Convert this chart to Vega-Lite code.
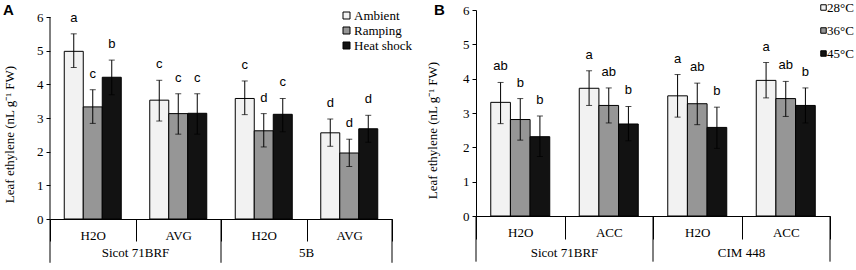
{
  "$schema": "https://vega.github.io/schema/vega-lite/v6.json",
  "padding": {"left": 3, "top": 1, "right": 0, "bottom": 0},
  "columns": 2,
  "align": "none",
  "spacing": 13,
  "resolve": {
    "scale": {"x": "independent", "y": "independent", "xOffset": "independent", "fill": "independent"},
    "axis": {"x": "independent", "y": "independent"},
    "legend": {"fill": "independent"}
  },
  "datasets": {
    "A": [
      {"g": "Sicot 71BRF|H2O", "s": "Ambient", "v": 4.98, "lo": 4.50, "hi": 5.50, "l": "a"},
      {"g": "Sicot 71BRF|H2O", "s": "Ramping", "v": 3.33, "lo": 2.84, "hi": 3.84, "l": "c"},
      {"g": "Sicot 71BRF|H2O", "s": "Heat shock", "v": 4.21, "lo": 3.69, "hi": 4.72, "l": "b"},
      {"g": "Sicot 71BRF|AVG", "s": "Ambient", "v": 3.53, "lo": 2.91, "hi": 4.12, "l": "c"},
      {"g": "Sicot 71BRF|AVG", "s": "Ramping", "v": 3.13, "lo": 2.52, "hi": 3.72, "l": "c"},
      {"g": "Sicot 71BRF|AVG", "s": "Heat shock", "v": 3.14, "lo": 2.52, "hi": 3.72, "l": "c"},
      {"g": "5B|H2O", "s": "Ambient", "v": 3.58, "lo": 3.10, "hi": 4.10, "l": "c"},
      {"g": "5B|H2O", "s": "Ramping", "v": 2.62, "lo": 2.14, "hi": 3.13, "l": "d"},
      {"g": "5B|H2O", "s": "Heat shock", "v": 3.11, "lo": 2.59, "hi": 3.58, "l": "c"},
      {"g": "5B|AVG", "s": "Ambient", "v": 2.56, "lo": 2.16, "hi": 2.97, "l": "d"},
      {"g": "5B|AVG", "s": "Ramping", "v": 1.96, "lo": 1.56, "hi": 2.37, "l": "d"},
      {"g": "5B|AVG", "s": "Heat shock", "v": 2.68, "lo": 2.28, "hi": 3.08, "l": "d"}
    ],
    "B": [
      {"g": "Sicot 71BRF|H2O", "s": "28°C", "v": 3.31, "lo": 2.69, "hi": 3.89, "l": "ab"},
      {"g": "Sicot 71BRF|H2O", "s": "36°C", "v": 2.81, "lo": 2.21, "hi": 3.42, "l": "b"},
      {"g": "Sicot 71BRF|H2O", "s": "45°C", "v": 2.31, "lo": 1.73, "hi": 2.91, "l": "b"},
      {"g": "Sicot 71BRF|ACC", "s": "28°C", "v": 3.72, "lo": 3.22, "hi": 4.23, "l": "a"},
      {"g": "Sicot 71BRF|ACC", "s": "36°C", "v": 3.22, "lo": 2.71, "hi": 3.73, "l": "ab"},
      {"g": "Sicot 71BRF|ACC", "s": "45°C", "v": 2.68, "lo": 2.19, "hi": 3.19, "l": "b"},
      {"g": "CIM 448|H2O", "s": "28°C", "v": 3.50, "lo": 2.88, "hi": 4.12, "l": "a"},
      {"g": "CIM 448|H2O", "s": "36°C", "v": 3.27, "lo": 2.66, "hi": 3.87, "l": "ab"},
      {"g": "CIM 448|H2O", "s": "45°C", "v": 2.58, "lo": 1.97, "hi": 3.17, "l": "b"},
      {"g": "CIM 448|ACC", "s": "28°C", "v": 3.95, "lo": 3.44, "hi": 4.47, "l": "a"},
      {"g": "CIM 448|ACC", "s": "36°C", "v": 3.42, "lo": 2.90, "hi": 3.92, "l": "ab"},
      {"g": "CIM 448|ACC", "s": "45°C", "v": 3.22, "lo": 2.71, "hi": 3.73, "l": "b"}
    ],
    "genoA": [
      {"g": "Sicot 71BRF|H2O", "geno": "Sicot 71BRF"},
      {"g": "5B|H2O", "geno": "5B"}
    ],
    "endA": [{"g": "5B|AVG"}],
    "genoB": [
      {"g": "Sicot 71BRF|H2O", "geno": "Sicot 71BRF"},
      {"g": "CIM 448|H2O", "geno": "CIM 448"}
    ],
    "endB": [{"g": "CIM 448|ACC"}],
    "panelA": [{"g": "Sicot 71BRF|H2O", "p": "A"}],
    "panelB": [{"g": "Sicot 71BRF|H2O", "p": "B"}]
  },
  "concat": [
    {
      "width": 342,
      "height": 209,
      "layer": [
        {
          "data": {"name": "A"},
          "mark": {"type": "bar", "stroke": "black", "strokeWidth": 1},
          "encoding": {
            "x": {"field": "g", "type": "nominal", "title": null,
              "scale": {"domain": ["Sicot 71BRF|H2O", "Sicot 71BRF|AVG", "5B|H2O", "5B|AVG"], "paddingInner": 0, "paddingOuter": 0},
              "axis": {"labelExpr": "split(datum.label, '|')[1]", "tickBand": "extent", "tickSize": 22, "labelPadding": -12, "labelAngle": 0}},
            "xOffset": {"field": "s", "type": "nominal", "scale": {"domain": ["Ambient", "Ramping", "Heat shock"], "paddingInner": 0, "paddingOuter": 0.75}},
            "y": {"field": "v", "type": "quantitative", "scale": {"domain": [0, 6.208], "nice": false},
              "axis": {"title": "Leaf ethylene (nL g⁻¹ FW)", "values": [0, 1, 2, 3, 4, 5, 6], "titleY": 124, "titlePadding": 20, "domain": false}},
            "fill": {"field": "s", "type": "nominal",
              "scale": {"domain": ["Ambient", "Ramping", "Heat shock"], "range": ["#f2f2f2", "#969696", "#121212"]},
              "legend": {"title": null, "orient": "none", "legendX": 290, "legendY": -1, "symbolType": "square", "symbolSize": 49, "symbolStrokeColor": "black", "symbolStrokeWidth": 1, "labelFont": "Liberation Serif", "labelFontSize": 13, "labelColor": "black", "rowPadding": 1, "labelOffset": 1, "padding": 0}}
          }
        },
        {
          "data": {"name": "A"},
          "mark": {"type": "rule", "color": "black", "strokeWidth": 1},
          "encoding": {
            "x": {"field": "g", "type": "nominal"},
            "xOffset": {"field": "s", "type": "nominal"},
            "y": {"field": "lo", "type": "quantitative", "axis": {"title": "Leaf ethylene (nL g⁻¹ FW)", "values": [0, 1, 2, 3, 4, 5, 6], "titleY": 124, "titlePadding": 20, "domain": false}},
            "y2": {"field": "hi"}
          }
        },
        {
          "data": {"name": "A"},
          "mark": {"type": "tick", "orient": "horizontal", "color": "black", "thickness": 1, "size": 6},
          "encoding": {
            "x": {"field": "g", "type": "nominal"},
            "xOffset": {"field": "s", "type": "nominal"},
            "y": {"field": "lo", "type": "quantitative", "axis": {"title": "Leaf ethylene (nL g⁻¹ FW)", "values": [0, 1, 2, 3, 4, 5, 6], "titleY": 124, "titlePadding": 20, "domain": false}}
          }
        },
        {
          "data": {"name": "A"},
          "mark": {"type": "tick", "orient": "horizontal", "color": "black", "thickness": 1, "size": 6},
          "encoding": {
            "x": {"field": "g", "type": "nominal"},
            "xOffset": {"field": "s", "type": "nominal"},
            "y": {"field": "hi", "type": "quantitative", "axis": {"title": "Leaf ethylene (nL g⁻¹ FW)", "values": [0, 1, 2, 3, 4, 5, 6], "titleY": 124, "titlePadding": 20, "domain": false}}
          }
        },
        {
          "data": {"name": "A"},
          "mark": {"type": "text", "font": "Liberation Sans", "fontSize": 13, "baseline": "alphabetic", "dy": -12, "color": "black"},
          "encoding": {
            "x": {"field": "g", "type": "nominal"},
            "xOffset": {"field": "s", "type": "nominal"},
            "y": {"field": "hi", "type": "quantitative", "axis": {"title": "Leaf ethylene (nL g⁻¹ FW)", "values": [0, 1, 2, 3, 4, 5, 6], "titleY": 124, "titlePadding": 20, "domain": false}},
            "text": {"field": "l"}
          }
        },
        {
          "data": {"name": "genoA"},
          "mark": {"type": "rule", "color": "black", "strokeWidth": 1},
          "encoding": {
            "x": {"field": "g", "type": "nominal", "bandPosition": 0},
            "y": {"datum": 0, "type": "quantitative", "axis": {"title": "Leaf ethylene (nL g⁻¹ FW)", "values": [0, 1, 2, 3, 4, 5, 6], "titleY": 124, "titlePadding": 20, "domain": false}},
            "y2": {"datum": -1.3}
          }
        },
        {
          "data": {"name": "panelA"},
          "mark": {"type": "rule", "color": "black", "strokeWidth": 1},
          "encoding": {
            "x": {"field": "g", "type": "nominal", "bandPosition": 0},
            "y": {"datum": 6, "type": "quantitative", "axis": {"title": "Leaf ethylene (nL g⁻¹ FW)", "values": [0, 1, 2, 3, 4, 5, 6], "titleY": 124, "titlePadding": 20, "domain": false}},
            "y2": {"datum": 0}
          }
        },
        {
          "data": {"name": "endA"},
          "mark": {"type": "rule", "color": "black", "strokeWidth": 1},
          "encoding": {
            "x": {"field": "g", "type": "nominal", "bandPosition": 1},
            "y": {"datum": 0, "type": "quantitative", "axis": {"title": "Leaf ethylene (nL g⁻¹ FW)", "values": [0, 1, 2, 3, 4, 5, 6], "titleY": 124, "titlePadding": 20, "domain": false}},
            "y2": {"datum": -1.3}
          }
        },
        {
          "data": {"name": "genoA"},
          "mark": {"type": "text", "font": "Liberation Serif", "fontSize": 13, "baseline": "middle", "color": "black"},
          "encoding": {
            "x": {"field": "g", "type": "nominal", "bandPosition": 1},
            "y": {"datum": -1.0, "type": "quantitative", "axis": {"title": "Leaf ethylene (nL g⁻¹ FW)", "values": [0, 1, 2, 3, 4, 5, 6], "titleY": 124, "titlePadding": 20, "domain": false}},
            "text": {"field": "geno"}
          }
        },
        {
          "data": {"name": "panelA"},
          "mark": {"type": "text", "font": "Liberation Sans", "fontSize": 15, "fontWeight": "bold", "align": "left", "baseline": "alphabetic", "dx": -47, "dy": -2, "color": "black"},
          "encoding": {
            "x": {"field": "g", "type": "nominal", "bandPosition": 0},
            "y": {"datum": 6, "type": "quantitative", "axis": {"title": "Leaf ethylene (nL g⁻¹ FW)", "values": [0, 1, 2, 3, 4, 5, 6], "titleY": 124, "titlePadding": 20, "domain": false}},
            "text": {"field": "p"}
          }
        }
      ]
    },
    {
      "width": 354,
      "height": 206,
      "layer": [
        {
          "data": {"name": "B"},
          "mark": {"type": "bar", "stroke": "black", "strokeWidth": 1},
          "encoding": {
            "x": {"field": "g", "type": "nominal", "title": null,
              "scale": {"domain": ["Sicot 71BRF|H2O", "Sicot 71BRF|ACC", "CIM 448|H2O", "CIM 448|ACC"], "paddingInner": 0, "paddingOuter": 0},
              "axis": {"labelExpr": "split(datum.label, '|')[1]", "tickBand": "extent", "tickSize": 23, "labelPadding": -13, "labelAngle": 0}},
            "xOffset": {"field": "s", "type": "nominal", "scale": {"domain": ["28°C", "36°C", "45°C"], "paddingInner": 0, "paddingOuter": 0.75}},
            "y": {"field": "v", "type": "quantitative", "scale": {"domain": [0, 6]},
              "axis": {"title": "Leaf ethylene (nL g⁻¹ FW)", "values": [0, 1, 2, 3, 4, 5, 6], "titleY": 120, "titlePadding": 23}},
            "fill": {"field": "s", "type": "nominal",
              "scale": {"domain": ["28°C", "36°C", "45°C"], "range": ["#f2f2f2", "#969696", "#121212"]},
              "legend": {"title": null, "orient": "none", "legendX": 341, "legendY": -9, "symbolType": "square", "symbolSize": 30, "symbolStrokeColor": "black", "symbolStrokeWidth": 1, "labelFont": "Liberation Serif", "labelFontSize": 13, "labelColor": "black", "rowPadding": 9, "labelOffset": -3, "padding": 0}}
          }
        },
        {
          "data": {"name": "B"},
          "mark": {"type": "rule", "color": "black", "strokeWidth": 1},
          "encoding": {
            "x": {"field": "g", "type": "nominal"},
            "xOffset": {"field": "s", "type": "nominal"},
            "y": {"field": "lo", "type": "quantitative", "axis": {"title": "Leaf ethylene (nL g⁻¹ FW)", "values": [0, 1, 2, 3, 4, 5, 6], "titleY": 120, "titlePadding": 23}},
            "y2": {"field": "hi"}
          }
        },
        {
          "data": {"name": "B"},
          "mark": {"type": "tick", "orient": "horizontal", "color": "black", "thickness": 1, "size": 6},
          "encoding": {
            "x": {"field": "g", "type": "nominal"},
            "xOffset": {"field": "s", "type": "nominal"},
            "y": {"field": "lo", "type": "quantitative", "axis": {"title": "Leaf ethylene (nL g⁻¹ FW)", "values": [0, 1, 2, 3, 4, 5, 6], "titleY": 120, "titlePadding": 23}}
          }
        },
        {
          "data": {"name": "B"},
          "mark": {"type": "tick", "orient": "horizontal", "color": "black", "thickness": 1, "size": 6},
          "encoding": {
            "x": {"field": "g", "type": "nominal"},
            "xOffset": {"field": "s", "type": "nominal"},
            "y": {"field": "hi", "type": "quantitative", "axis": {"title": "Leaf ethylene (nL g⁻¹ FW)", "values": [0, 1, 2, 3, 4, 5, 6], "titleY": 120, "titlePadding": 23}}
          }
        },
        {
          "data": {"name": "B"},
          "mark": {"type": "text", "font": "Liberation Sans", "fontSize": 13, "baseline": "alphabetic", "dy": -12, "color": "black"},
          "encoding": {
            "x": {"field": "g", "type": "nominal"},
            "xOffset": {"field": "s", "type": "nominal"},
            "y": {"field": "hi", "type": "quantitative", "axis": {"title": "Leaf ethylene (nL g⁻¹ FW)", "values": [0, 1, 2, 3, 4, 5, 6], "titleY": 120, "titlePadding": 23}},
            "text": {"field": "l"}
          }
        },
        {
          "data": {"name": "genoB"},
          "mark": {"type": "rule", "color": "black", "strokeWidth": 1},
          "encoding": {
            "x": {"field": "g", "type": "nominal", "bandPosition": 0},
            "y": {"datum": 0, "type": "quantitative", "axis": {"title": "Leaf ethylene (nL g⁻¹ FW)", "values": [0, 1, 2, 3, 4, 5, 6], "titleY": 120, "titlePadding": 23}},
            "y2": {"datum": -1.33}
          }
        },
        {
          "data": {"name": "endB"},
          "mark": {"type": "rule", "color": "black", "strokeWidth": 1},
          "encoding": {
            "x": {"field": "g", "type": "nominal", "bandPosition": 1},
            "y": {"datum": 0, "type": "quantitative", "axis": {"title": "Leaf ethylene (nL g⁻¹ FW)", "values": [0, 1, 2, 3, 4, 5, 6], "titleY": 120, "titlePadding": 23}},
            "y2": {"datum": -1.33}
          }
        },
        {
          "data": {"name": "genoB"},
          "mark": {"type": "text", "font": "Liberation Serif", "fontSize": 13, "baseline": "middle", "color": "black"},
          "encoding": {
            "x": {"field": "g", "type": "nominal", "bandPosition": 1},
            "y": {"datum": -1.07, "type": "quantitative", "axis": {"title": "Leaf ethylene (nL g⁻¹ FW)", "values": [0, 1, 2, 3, 4, 5, 6], "titleY": 120, "titlePadding": 23}},
            "text": {"field": "geno"}
          }
        },
        {
          "data": {"name": "panelB"},
          "mark": {"type": "text", "font": "Liberation Sans", "fontSize": 15, "fontWeight": "bold", "align": "left", "baseline": "alphabetic", "dx": -42, "dy": 5, "color": "black"},
          "encoding": {
            "x": {"field": "g", "type": "nominal", "bandPosition": 0},
            "y": {"datum": 6, "type": "quantitative", "axis": {"title": "Leaf ethylene (nL g⁻¹ FW)", "values": [0, 1, 2, 3, 4, 5, 6], "titleY": 120, "titlePadding": 23}},
            "text": {"field": "p"}
          }
        }
      ]
    }
  ],
  "config": {
    "view": {"stroke": null},
    "axis": {
      "grid": false,
      "domainColor": "black",
      "tickColor": "black",
      "labelColor": "black",
      "titleColor": "black",
      "labelFont": "Liberation Serif",
      "labelFontSize": 13,
      "titleFont": "Liberation Serif",
      "titleFontSize": 13,
      "titleFontWeight": "normal"
    },
    "axisY": {"tickSize": 4, "labelPadding": 3}
  }
}
